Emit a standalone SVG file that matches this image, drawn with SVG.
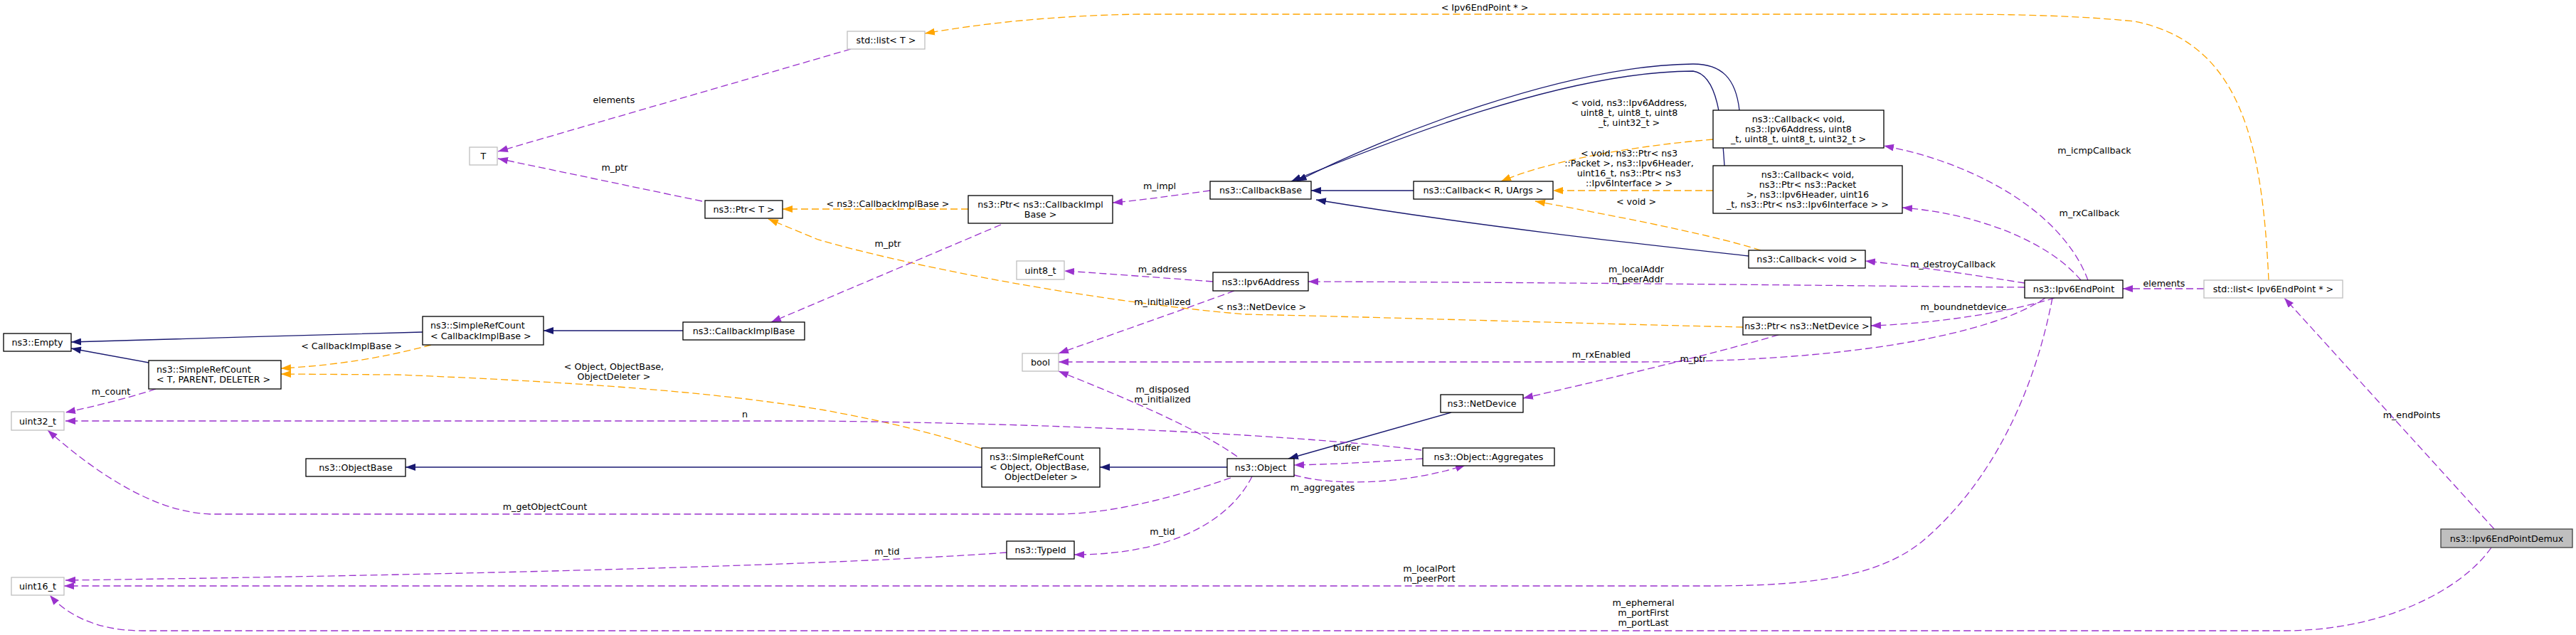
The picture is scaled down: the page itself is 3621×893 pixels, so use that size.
<svg xmlns="http://www.w3.org/2000/svg" width="3621" height="893" viewBox="0 0 3621 893">
<style>
text{font-family:"DejaVu Sans","Liberation Sans",sans-serif;font-size:12.7px;fill:#000}
.c{text-anchor:middle}
.nd rect{fill:#fff;stroke:#000;stroke-width:1.3}
.gr rect{fill:#fff;stroke:#bfbfbf;stroke-width:1.3}
.cur rect{fill:#bfbfbf;stroke:#404040;stroke-width:1.3}
.e path{fill:none;stroke-width:1.3}
.i{stroke:#191970}
.o{stroke:#ffa500;stroke-dasharray:10,5}
.u{stroke:#9a32cd;stroke-dasharray:10,5}
</style>
<defs>
<marker id="ai" markerUnits="userSpaceOnUse" markerWidth="14" markerHeight="10" viewBox="0 0 14 10" refX="14" refY="5" orient="auto"><path d="M0,0 L14,5 L0,10 z" fill="#191970"/></marker>
<marker id="ao" markerUnits="userSpaceOnUse" markerWidth="14" markerHeight="10" viewBox="0 0 14 10" refX="14" refY="5" orient="auto"><path d="M0,0 L14,5 L0,10 z" fill="#ffa500"/></marker>
<marker id="au" markerUnits="userSpaceOnUse" markerWidth="14" markerHeight="10" viewBox="0 0 14 10" refX="14" refY="5" orient="auto"><path d="M0,0 L14,5 L0,10 z" fill="#9a32cd"/></marker>
</defs>
<rect width="3621" height="893" fill="#fff"/>
<g id="edges" class="e">
<path class="i" marker-end="url(#ai)" d="M594,467 C480,470 200,478 100,481"/>
<path class="i" marker-end="url(#ai)" d="M209,510 L100,490"/>
<path class="i" marker-end="url(#ai)" d="M960,465 L764,465"/>
<path class="i" marker-end="url(#ai)" d="M1987,268 L1843,268"/>
<path class="i" marker-end="url(#ai)" d="M2445,155 C2440,110 2420,90 2380,90 C2200,92 1950,190 1823,255"/>
<path class="i" marker-end="url(#ai)" d="M2424,233 C2420,170 2415,105 2380,100 C2200,100 1950,200 1815,255"/>
<path class="i" marker-end="url(#ai)" d="M2458,360 C2350,348 2100,322 1850,281"/>
<path class="i" marker-end="url(#ai)" d="M1725,657 L1546,657"/>
<path class="i" marker-end="url(#ai)" d="M1380,657 L570,657"/>
<path class="i" marker-end="url(#ai)" d="M2040,580 L1811,645"/>
<path class="o" marker-end="url(#ao)" d="M606,485 C540,503 470,514 395,518"/>
<path class="o" marker-end="url(#ao)" d="M1380,631 C1300,605 1230,590 1160,577 C1000,550 800,537 560,527 L395,526"/>
<path class="o" marker-end="url(#ao)" d="M1361,294 L1100,294"/>
<path class="o" marker-end="url(#ao)" d="M2450,460 C2300,457 1900,445 1750,442 C1550,425 1300,380 1150,337 L1080,308"/>
<path class="o" marker-end="url(#ao)" d="M2408,196 C2300,205 2180,225 2110,255"/>
<path class="o" marker-end="url(#ao)" d="M2408,268 L2183,268"/>
<path class="o" marker-end="url(#ao)" d="M2475,352 C2400,328 2250,300 2158,283"/>
<path class="o" marker-end="url(#ao)" d="M3189,394 C3180,200 3150,60 3000,30 C2900,20 2800,20 2700,20 L1600,20 C1480,22 1380,33 1300,47"/>
<path class="u" marker-end="url(#au)" d="M1196,69 L700,213"/>
<path class="u" marker-end="url(#au)" d="M987,283 L700,223"/>
<path class="u" marker-end="url(#au)" d="M1407,316 L1084,453"/>
<path class="u" marker-end="url(#au)" d="M1701,268 C1650,275 1600,282 1564,285"/>
<path class="u" marker-end="url(#au)" d="M219,547 C180,560 130,572 92,580"/>
<path class="u" marker-end="url(#au)" d="M1998,633 C1900,620 1600,597 1150,592 L92,592"/>
<path class="u" marker-end="url(#au)" d="M1730,672 C1650,700 1560,723 1485,723 L295,723 C220,720 140,670 67,605"/>
<path class="u" marker-end="url(#au)" d="M1705,396 C1650,392 1560,385 1496,381"/>
<path class="u" marker-end="url(#au)" d="M1735,409 C1650,440 1550,475 1488,497"/>
<path class="u" marker-end="url(#au)" d="M2875,419 C2800,470 2600,509 2300,509 L1488,509"/>
<path class="u" marker-end="url(#au)" d="M1739,642 C1680,600 1570,555 1488,522"/>
<path class="u" marker-end="url(#au)" d="M2846,404 C2600,402 2200,397 1839,396"/>
<path class="u" marker-end="url(#au)" d="M2935,394 C2900,300 2780,230 2648,205"/>
<path class="u" marker-end="url(#au)" d="M2925,394 C2880,340 2780,300 2674,292"/>
<path class="u" marker-end="url(#au)" d="M2846,398 C2780,388 2700,375 2622,367"/>
<path class="u" marker-end="url(#au)" d="M2888,419 C2820,440 2720,455 2630,458"/>
<path class="u" marker-end="url(#au)" d="M2500,471 C2400,500 2230,540 2141,560"/>
<path class="u" marker-end="url(#au)" d="M2000,645 C1930,650 1870,653 1819,654"/>
<path class="u" marker-end="url(#au)" d="M1819,668 C1880,685 1980,680 2060,654"/>
<path class="u" marker-end="url(#au)" d="M1760,670 C1730,730 1650,780 1510,780"/>
<path class="u" marker-end="url(#au)" d="M1415,777 C1100,800 400,812 92,816"/>
<path class="u" marker-end="url(#au)" d="M2885,419 C2860,550 2800,680 2700,763 C2640,810 2550,824 2400,824 L90,824"/>
<path class="u" marker-end="url(#au)" d="M3502,770 C3460,830 3350,887 3211,887 L200,887 C130,887 90,860 70,837"/>
<path class="u" marker-end="url(#au)" d="M3506,744 L3211,419"/>
<path class="u" marker-end="url(#au)" d="M3098,406 L2984,406"/>
<text class="c" x="494" y="491">&lt; CallbackImplBase &gt;</text>
<text class="c" x="863" y="520">&lt; Object, ObjectBase,</text>
<text class="c" x="863" y="534">ObjectDeleter &gt;</text>
<text class="c" x="1248" y="291">&lt; ns3::CallbackImplBase &gt;</text>
<text class="c" x="1773" y="436">&lt; ns3::NetDevice &gt;</text>
<text class="c" x="2290" y="149">&lt; void, ns3::Ipv6Address,</text>
<text class="c" x="2290" y="163">uint8_t, uint8_t, uint8</text>
<text class="c" x="2290" y="177">_t, uint32_t &gt;</text>
<text class="c" x="2290" y="220">&lt; void, ns3::Ptr&lt; ns3</text>
<text class="c" x="2290" y="234">::Packet &gt;, ns3::Ipv6Header,</text>
<text class="c" x="2290" y="248">uint16_t, ns3::Ptr&lt; ns3</text>
<text class="c" x="2290" y="262">::Ipv6Interface &gt; &gt;</text>
<text class="c" x="2300" y="288">&lt; void &gt;</text>
<text class="c" x="2087" y="15">&lt; Ipv6EndPoint * &gt;</text>
<text class="c" x="863" y="145">elements</text>
<text class="c" x="864" y="240">m_ptr</text>
<text class="c" x="1248" y="347">m_ptr</text>
<text class="c" x="1630" y="266">m_impl</text>
<text class="c" x="156" y="555">m_count</text>
<text class="c" x="1047" y="587">n</text>
<text class="c" x="766" y="717">m_getObjectCount</text>
<text class="c" x="1634" y="383">m_address</text>
<text class="c" x="1634" y="429">m_initialized</text>
<text class="c" x="2251" y="503">m_rxEnabled</text>
<text class="c" x="1634" y="552">m_disposed</text>
<text class="c" x="1634" y="566">m_initialized</text>
<text class="c" x="2300" y="383">m_localAddr</text>
<text class="c" x="2300" y="397">m_peerAddr</text>
<text class="c" x="2944" y="216">m_icmpCallback</text>
<text class="c" x="2937" y="304">m_rxCallback</text>
<text class="c" x="2745" y="376">m_destroyCallback</text>
<text class="c" x="2760" y="436">m_boundnetdevice</text>
<text class="c" x="2380" y="509">m_ptr</text>
<text class="c" x="1893" y="634">buffer</text>
<text class="c" x="1859" y="690">m_aggregates</text>
<text class="c" x="1634" y="752">m_tid</text>
<text class="c" x="1247" y="780">m_tid</text>
<text class="c" x="2009" y="804">m_localPort</text>
<text class="c" x="2009" y="818">m_peerPort</text>
<text class="c" x="2310" y="852">m_ephemeral</text>
<text class="c" x="2310" y="866">m_portFirst</text>
<text class="c" x="2310" y="880">m_portLast</text>
<text class="c" x="3390" y="588">m_endPoints</text>
<text class="c" x="3042" y="403">elements</text>
</g>
<g id="demux" class="cur"><rect x="3431" y="744" width="185" height="26"/><text class="c" x="3523.5" y="761.5">ns3::Ipv6EndPointDemux</text></g>
<g id="endpoint" class="nd"><rect x="2846" y="394" width="138" height="25"/><text class="c" x="2915" y="411">ns3::Ipv6EndPoint</text></g>
<g id="listep" class="gr"><rect x="3098" y="394" width="195" height="25"/><text class="c" x="3195.5" y="411">std::list&lt; Ipv6EndPoint * &gt;</text></g>
<g id="listT" class="gr"><rect x="1191" y="44" width="109" height="25"/><text class="c" x="1245.5" y="61">std::list&lt; T &gt;</text></g>
<g id="T" class="gr"><rect x="660" y="207" width="39" height="25"/><text class="c" x="679.5" y="224">T</text></g>
<g id="ptrT" class="nd"><rect x="991" y="282" width="109" height="25"/><text class="c" x="1045.5" y="299">ns3::Ptr&lt; T &gt;</text></g>
<g id="ptrCbi" class="nd"><rect x="1361" y="275" width="203" height="39"/><text class="c" x="1462.5" y="291.5">ns3::Ptr&lt; ns3::CallbackImpl</text><text class="c" x="1462.5" y="305.5">Base &gt;</text></g>
<g id="cbBase" class="nd"><rect x="1701" y="255" width="142" height="25"/><text class="c" x="1772" y="272">ns3::CallbackBase</text></g>
<g id="cbRU" class="nd"><rect x="1987" y="255" width="196" height="25"/><text class="c" x="2085" y="272">ns3::Callback&lt; R, UArgs &gt;</text></g>
<g id="cbIcmp" class="nd"><rect x="2408" y="155" width="240" height="53"/><text class="c" x="2528" y="172">ns3::Callback&lt; void,</text><text class="c" x="2528" y="186">ns3::Ipv6Address, uint8</text><text class="c" x="2528" y="200">_t, uint8_t, uint8_t, uint32_t &gt;</text></g>
<g id="cbRx" class="nd"><rect x="2408" y="233" width="266" height="67"/><text class="c" x="2541" y="250">ns3::Callback&lt; void,</text><text class="c" x="2541" y="264">ns3::Ptr&lt; ns3::Packet</text><text class="c" x="2541" y="278">&gt;, ns3::Ipv6Header, uint16</text><text class="c" x="2541" y="292">_t, ns3::Ptr&lt; ns3::Ipv6Interface &gt; &gt;</text></g>
<g id="cbVoid" class="nd"><rect x="2458" y="352" width="164" height="25"/><text class="c" x="2540" y="369">ns3::Callback&lt; void &gt;</text></g>
<g id="ptrNd" class="nd"><rect x="2450" y="446" width="180" height="25"/><text class="c" x="2540" y="463">ns3::Ptr&lt; ns3::NetDevice &gt;</text></g>
<g id="netdev" class="nd"><rect x="2025" y="555" width="116" height="25"/><text class="c" x="2083" y="572">ns3::NetDevice</text></g>
<g id="aggr" class="nd"><rect x="2000" y="630" width="185" height="25"/><text class="c" x="2092.5" y="647">ns3::Object::Aggregates</text></g>
<g id="object" class="nd"><rect x="1725" y="645" width="94" height="25"/><text class="c" x="1772" y="662">ns3::Object</text></g>
<g id="srcObj" class="nd"><rect x="1380" y="630" width="166" height="55"/><text x="1391" y="647">ns3::SimpleRefCount</text><text x="1391" y="661">&lt; Object, ObjectBase,</text><text x="1412" y="675">ObjectDeleter &gt;</text></g>
<g id="typeid" class="nd"><rect x="1415" y="761" width="95" height="25"/><text class="c" x="1462.5" y="778">ns3::TypeId</text></g>
<g id="objbase" class="nd"><rect x="430" y="645" width="140" height="25"/><text class="c" x="500" y="662">ns3::ObjectBase</text></g>
<g id="uint8" class="gr"><rect x="1429" y="367" width="67" height="26"/><text class="c" x="1462.5" y="384.5">uint8_t</text></g>
<g id="bool" class="gr"><rect x="1437" y="497" width="51" height="25"/><text class="c" x="1462.5" y="514">bool</text></g>
<g id="ipv6addr" class="nd"><rect x="1705" y="383" width="134" height="26"/><text class="c" x="1772" y="400.5">ns3::Ipv6Address</text></g>
<g id="cbImpl" class="nd"><rect x="960" y="453" width="171" height="25"/><text class="c" x="1045.5" y="470">ns3::CallbackImplBase</text></g>
<g id="srcCbi" class="nd"><rect x="594" y="445" width="170" height="40"/><text x="605" y="461.5">ns3::SimpleRefCount</text><text x="605" y="476.5">&lt; CallbackImplBase &gt;</text></g>
<g id="srcT" class="nd"><rect x="209" y="507" width="186" height="40"/><text x="220" y="523.5">ns3::SimpleRefCount</text><text x="220" y="537.5">&lt; T, PARENT, DELETER &gt;</text></g>
<g id="empty" class="nd"><rect x="5" y="469" width="95" height="25"/><text class="c" x="52.5" y="486">ns3::Empty</text></g>
<g id="uint32" class="gr"><rect x="16" y="579" width="74" height="26"/><text class="c" x="53" y="596.5">uint32_t</text></g>
<g id="uint16" class="gr"><rect x="16" y="812" width="74" height="25"/><text class="c" x="53" y="829">uint16_t</text></g>
</svg>
